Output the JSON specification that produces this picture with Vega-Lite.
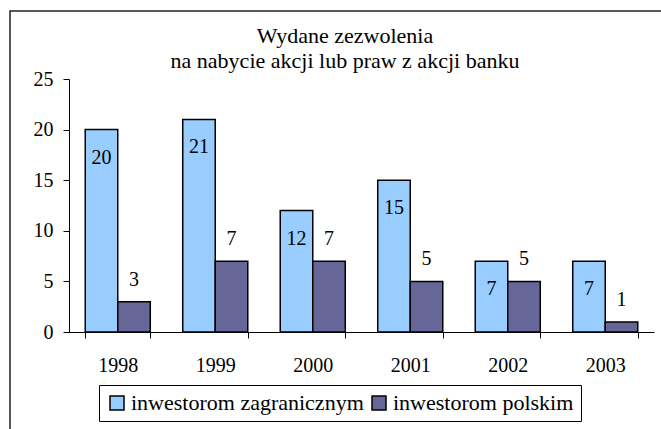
{
  "$schema": "https://vega.github.io/schema/vega-lite/v6.json",
  "autosize": {"type": "none"},
  "padding": {"left": 10, "top": 11, "right": 0, "bottom": 0},
  "width": 670,
  "height": 440,
  "background": "white",
  "config": {
    "view": {"stroke": "#222222", "strokeWidth": 1.5},
    "font": "Liberation Serif"
  },
  "title": {
    "text": ["Wydane zezwolenia", "na nabycie akcji lub praw z akcji banku"],
    "anchor": "middle",
    "frame": "group",
    "font": "Liberation Serif",
    "fontSize": 22,
    "fontWeight": "normal",
    "color": "black",
    "lineHeight": 25,
    "baseline": "alphabetic",
    "offset": -79
  },
  "data": {
    "values": [
      {"rok": "1998", "inwestor": "inwestorom zagranicznym", "liczba": 20},
      {"rok": "1998", "inwestor": "inwestorom polskim", "liczba": 3},
      {"rok": "1999", "inwestor": "inwestorom zagranicznym", "liczba": 21},
      {"rok": "1999", "inwestor": "inwestorom polskim", "liczba": 7},
      {"rok": "2000", "inwestor": "inwestorom zagranicznym", "liczba": 12},
      {"rok": "2000", "inwestor": "inwestorom polskim", "liczba": 7},
      {"rok": "2001", "inwestor": "inwestorom zagranicznym", "liczba": 15},
      {"rok": "2001", "inwestor": "inwestorom polskim", "liczba": 5},
      {"rok": "2002", "inwestor": "inwestorom zagranicznym", "liczba": 7},
      {"rok": "2002", "inwestor": "inwestorom polskim", "liczba": 5},
      {"rok": "2003", "inwestor": "inwestorom zagranicznym", "liczba": 7},
      {"rok": "2003", "inwestor": "inwestorom polskim", "liczba": 1}
    ]
  },
  "encoding": {
    "x": {
      "field": "rok",
      "type": "nominal",
      "scale": {"range": [59, 644], "paddingInner": 0.333, "paddingOuter": 0.1665},
      "axis": {
        "title": null,
        "labelAngle": 0,
        "offset": -119,
        "tickBand": "extent",
        "domainColor": "black",
        "tickColor": "black",
        "tickSize": 6,
        "labelFont": "Liberation Serif",
        "labelFontSize": 20,
        "labelColor": "black",
        "labelPadding": 17
      }
    },
    "xOffset": {
      "field": "inwestor",
      "type": "nominal",
      "sort": ["inwestorom zagranicznym", "inwestorom polskim"],
      "scale": {"paddingInner": 0, "paddingOuter": 0}
    },
    "y": {
      "field": "liczba",
      "type": "quantitative",
      "scale": {"domain": [0, 25], "range": [321, 68], "nice": false, "zero": true},
      "axis": {
        "title": null,
        "values": [0, 5, 10, 15, 20, 25],
        "grid": false,
        "offset": -59,
        "domainColor": "black",
        "tickColor": "black",
        "tickSize": 6,
        "labelFont": "Liberation Serif",
        "labelFontSize": 20,
        "labelColor": "black",
        "labelPadding": 10
      }
    }
  },
  "layer": [
    {
      "mark": {"type": "bar", "stroke": "black", "strokeWidth": 1.5},
      "encoding": {
        "color": {
          "field": "inwestor",
          "type": "nominal",
          "scale": {
            "domain": ["inwestorom zagranicznym", "inwestorom polskim"],
            "range": ["#99CCFF", "#666699"]
          },
          "legend": {
            "title": null,
            "orient": "none",
            "legendX": 89,
            "legendY": 374,
            "direction": "horizontal",
            "strokeColor": "black",
            "padding": 7,
            "symbolType": "square",
            "symbolSize": 196,
            "symbolStrokeColor": "black",
            "symbolStrokeWidth": 1.5,
            "symbolOpacity": 1,
            "labelFont": "Liberation Serif",
            "labelFontSize": 22,
            "labelColor": "black",
            "labelOffset": 3,
            "labelLimit": 400,
            "columnPadding": 4
          }
        }
      }
    },
    {
      "transform": [{"filter": "datum.inwestor === 'inwestorom zagranicznym'"}],
      "mark": {"type": "text", "font": "Liberation Serif", "fontSize": 20, "color": "black", "baseline": "alphabetic", "dy": 34},
      "encoding": {"text": {"field": "liczba", "type": "quantitative"}}
    },
    {
      "transform": [{"filter": "datum.inwestor === 'inwestorom polskim'"}],
      "mark": {"type": "text", "font": "Liberation Serif", "fontSize": 20, "color": "black", "baseline": "alphabetic", "dy": -16},
      "encoding": {"text": {"field": "liczba", "type": "quantitative"}}
    }
  ]
}
